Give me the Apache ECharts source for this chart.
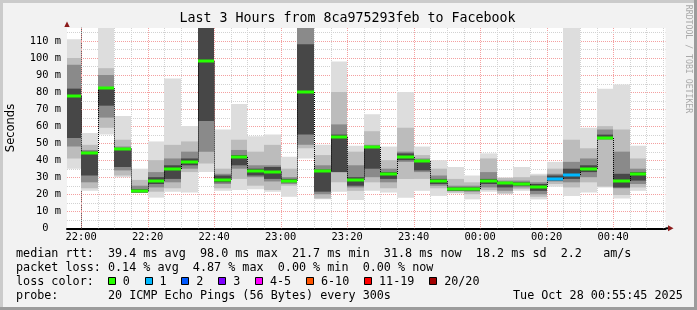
<!DOCTYPE html>
<html><head><meta charset="utf-8">
<style>html,body{margin:0;padding:0;background:#f2f2f2;}#c{width:697px;height:310px;}</style>
<script src="https://cdn.jsdelivr.net/npm/echarts@6/dist/echarts.min.js"></script>
</head><body><div id="c"></div>
<script>
// ---- data ----
const barTimes = ['21:55','22:00','22:05','22:10','22:15','22:20','22:25','22:30','22:35','22:40',
  '22:45','22:50','22:55','23:00','23:05','23:10','23:15','23:20','23:25','23:30',
  '23:35','23:40','23:45','23:50','23:55','00:00','00:05','00:10','00:15','00:20',
  '00:25','00:30','00:35','00:40','00:45'];
const outerLo = [35,22,55,30,21,18,21.5,21,33,22, 22.5,23,21.5,18.5,41,17,21.5,16.6,22,21, 18,22,19,20.5,17,21.5,20,22,17,24.4, 19,21,24,17.5,22];
const outerHi = [111,56,120,66,35,51,88,60,120,58, 73,54,55,42,120,49,98,48.5,67,48, 80,48,40,36,31,44,30,36,32,39, 120,59,82,84.5,48.5];
const midLo   = [41,23.5,59,31,21,21.5,23.5,33,38,23.5, 29,25,22.5,25,47,17.5,27,22,27,23.5, 29,29,23.5,21,20,22.5,20.5,23,18.5,26, 24,27,24.5,19.5,24];
const midHi   = [100,49,94,52,28.4,40,49,51,120,35, 52,45,49,35,120,43,80,45,57,40, 59,43,35,29,27,41,29.5,30,31,35, 52,47,60,58,41];
const innerLo = [48,27,65,34,21,24,27,35,45,26, 35,30,27.5,26,49,20,33,24,30,27, 39,33,25,22,21.5,24,22,24,20,27.5, 27,30,52,23.5,26];
const innerHi = [96,46,90,48,25,33,41,45,120,32, 46,37,37,30,120,37,61,37,49,35, 45,41,31,25,25,33,28,28,27,32, 39,41,58,45,35];
const coreLo  = [53,31,72,36,21,26,29,37,63,27, 37,31,29,27,55,21.5,33,25,35,29, 40,34,26,22,22,26,24,25,22,28, 29,33,52.5,24,28];
const coreHi  = [82,45,82.5,46.5,23,30,37,41,120,31, 43,35,36,29,108,34.5,55,30,48,33, 44,40,29,24,24,29,27,27,26,31, 35,37,55,32,33];
const medians = [77.5,44.2,82.2,46.8,21.7,28,34.8,39.2,98,28.6, 41.9,33.7,33.3,28,80,33.9,53.5,28.6,47.7,31.9, 41.8,39.4,27.6,23,23.1,28,26.4,25.8,24.2,29, 31.3,34.9,53,27.8,31.9];
const lossBins = [0,0,0,0,0,0,0,0,0,0, 0,0,0,0,0,0,0,0,0,0, 0,0,0,0,0,0,0,0,0,1, 1,0,0,0,0];
const xTickLabels = ['22:00','22:20','22:40','23:00','23:20','23:40','00:00','00:20','00:40'];
const startTime = '21:55:45', endTime = '00:55:45';
const yMax = 117.6;
const lossLabels = ['0','1','2','3','4-5','6-10','11-19','20/20'];
const lossColors = ['#26ff00','#00b8ff','#0059ff','#7e00ff','#ff00ff','#ff5500','#ff0000','#a10000'];
const titleText = 'Last 3 Hours from 8ca975293feb to Facebook';
const statLines = [
  'median rtt:  39.4 ms avg  98.0 ms max  21.7 ms min  31.8 ms now  18.2 ms sd  2.2   am/s',
  'packet loss: 0.14 % avg  4.87 % max  0.00 % min  0.00 % now'
];
const probeLine = 'probe:       20 ICMP Echo Pings (56 Bytes) every 300s';
const dateLine = 'Tue Oct 28 00:55:45 2025';

// ---- helpers ----
function toMin(s){
  const p = s.split(':').map(Number);
  let v = p[0]*60 + p[1] + (p[2]||0)/60 - 22*60;
  if (v < -600) v += 1440;
  return v;
}
const X_MIN = toMin(startTime), X_MAX = toMin(endTime);
const tickMinutes = xTickLabels.map(toMin);
const STEP = 5;
const layerColors = ['#dddddd','#bcbcbc','#8a8a8a','#474747'];

const barData = barTimes.map((t,i)=>[toMin(t), outerLo[i], outerHi[i], midLo[i], midHi[i],
  innerLo[i], innerHi[i], coreLo[i], coreHi[i], medians[i], lossBins[i]]);

const vGrid = [];
for (let m = Math.ceil(X_MIN/5)*5; m <= X_MAX; m += 5) vGrid.push([m]);
const hGrid = [];
for (let v = 5; v < yMax; v += 5) hGrid.push([v]);

const MONO = '"DejaVu Sans Mono", monospace';
const G = {left:67, top:28, width:598.5, height:200.3};

function renderBar(params, api){
  const cs = params.coordSys;
  const area = {x:cs.x, y:cs.y, width:cs.width, height:cs.height};
  const t0 = api.value(0), t1 = t0 + STEP;
  const children = [];
  for (let k = 0; k < 4; k++){
    const lo = api.value(1+2*k), hi = api.value(2+2*k);
    const a = api.coord([t0, hi]), b = api.coord([t1, lo]);
    const x0 = Math.round(a[0]), x1 = Math.round(b[0]);
    const r = echarts.graphic.clipRectByRect({x:x0, y:a[1], width:x1-x0, height:b[1]-a[1]}, area);
    if (r) children.push({type:'rect', shape:r, style:{fill:layerColors[k]}});
  }
  const med = api.value(9), loss = api.value(10);
  const pm = api.coord([t0, med]), pe = api.coord([t1, med]);
  const x0 = Math.round(pm[0]), x1 = Math.round(pe[0]);
  const i = params.dataIndex;
  if (i > 0){
    const pp = api.coord([t0, medians[i-1]]);
    children.push({type:'line', shape:{x1:x0+0.5, y1:pp[1], x2:x0+0.5, y2:pm[1]},
      style:{stroke:'#000', lineWidth:1, lineDash:[1,1]}});
  }
  const mr = echarts.graphic.clipRectByRect({x:x0, y:Math.round(pm[1])-1.5, width:x1-x0, height:3}, area);
  if (mr) children.push({type:'rect', shape:mr, style:{fill:lossColors[loss]}});
  return {type:'group', children};
}

function renderV(params, api){
  const cs = params.coordSys;
  const m = api.value(0);
  const x = Math.round(api.coord([m, 0])[0]) + 0.5;
  const major = tickMinutes.indexOf(m) >= 0;
  return {type:'line', shape:{x1:x, y1:cs.y, x2:x, y2:cs.y+cs.height},
    style:{stroke: major ? '#f4a0a0' : '#d2d2d2', lineWidth:1, lineDash:[1,1]}};
}
function renderH(params, api){
  const cs = params.coordSys;
  const v = api.value(0);
  const y = Math.round(api.coord([X_MIN, v])[1]) + 0.5;
  const major = (v % 10) === 0;
  return {type:'line', shape:{x1:cs.x, y1:y, x2:cs.x+cs.width, y2:y},
    style:{stroke: major ? '#f4a0a0' : '#d2d2d2', lineWidth:1, lineDash:[1,1]}};
}

// legend layout
const graphics = [];
graphics.push({type:'rect', shape:{x:0,y:0,width:697,height:3}, style:{fill:'#cbcbcb'}, silent:true});
graphics.push({type:'rect', shape:{x:0,y:0,width:3,height:310}, style:{fill:'#cbcbcb'}, silent:true});
graphics.push({type:'rect', shape:{x:0,y:307,width:697,height:3}, style:{fill:'#9c9c9c'}, silent:true});
graphics.push({type:'rect', shape:{x:694,y:0,width:3,height:310}, style:{fill:'#9c9c9c'}, silent:true});
graphics.push({type:'text', x:347.5, y:19, style:{text:titleText, font:'13.3px '+MONO, fill:'#000', textAlign:'center', textVerticalAlign:'middle'}});
graphics.push({type:'text', x:11, y:128, rotation:Math.PI/2, style:{text:'Seconds', font:'11.5px "DejaVu Sans", sans-serif', fill:'#000', textAlign:'center', textVerticalAlign:'middle'}});
graphics.push({type:'text', x:688, y:59, rotation:-Math.PI/2, style:{text:'RRDTOOL / TOBI OETIKER', font:'8.2px '+MONO, fill:'#a9a9a9', textAlign:'center', textVerticalAlign:'middle'}});
// arrows
graphics.push({type:'polygon', shape:{points:[[67,21.5],[64.3,27],[69.7,27]]}, style:{fill:'#8b1a1a'}});
graphics.push({type:'line', shape:{x1:G.left+G.width, y1:228.3, x2:669, y2:228.3}, style:{stroke:'#000', lineWidth:2}});
graphics.push({type:'polygon', shape:{points:[[673.5,228.3],[668,225.3],[668,231.3]]}, style:{fill:'#8b1a1a'}});
const lineY = [254, 268.3, 282, 296.3];
const ADV = 7.08, FS = '11.75px ' + MONO;
statLines.forEach((s,k)=>graphics.push({type:'text', x:16, y:lineY[k], style:{text:s, font:FS, fill:'#000', textVerticalAlign:'middle'}}));
graphics.push({type:'text', x:16, y:lineY[2], style:{text:'loss color:', font:FS, fill:'#000', textVerticalAlign:'middle'}});
let lx = 122.7;
lossLabels.forEach((lab,k)=>{
  graphics.push({type:'rect', shape:{x:Math.round(lx-15)+0.5, y:277.5, width:7, height:7}, style:{fill:lossColors[k], stroke:'#000', lineWidth:1}});
  graphics.push({type:'text', x:lx, y:lineY[2], style:{text:lab, font:FS, fill:'#000', textVerticalAlign:'middle'}});
  lx += (lab.length + 4.2) * ADV;
});
graphics.push({type:'text', x:16, y:lineY[3], style:{text:probeLine, font:FS, fill:'#000', textVerticalAlign:'middle'}});
graphics.push({type:'text', x:513, y:lineY[3], style:{text:dateLine, font:FS, fill:'#000', textVerticalAlign:'middle'}});

const chart = echarts.init(document.getElementById('c'), null, {renderer:'canvas'});
chart.setOption({
  animation:false,
  backgroundColor:'#f2f2f2',
  grid:{left:G.left, top:G.top, width:G.width, height:G.height, show:true, backgroundColor:'#ffffff', borderWidth:0, containLabel:false},
  xAxis:{type:'value', min:X_MIN, max:X_MAX,
    splitLine:{show:false}, axisTick:{show:false},
    axisLine:{show:true, onZero:false, lineStyle:{color:'#000', width:2}},
    axisLabel:{customValues:tickMinutes, margin:4, fontFamily:'DejaVu Sans Mono', fontSize:10.4, color:'#000',
      formatter:(v)=>{const k = tickMinutes.indexOf(v); return k>=0 ? xTickLabels[k] : '';}}
  },
  yAxis:{type:'value', min:0, max:yMax, interval:10,
    splitLine:{show:false}, axisTick:{show:false},
    axisLine:{show:true, lineStyle:{color:'#666', width:1}},
    axisLabel:{margin:6, fontFamily:'DejaVu Sans Mono', fontSize:10.4, color:'#000', showMaxLabel:true,
      formatter:(v)=> (Math.abs(v % 10) > 1e-6) ? '' : (v === 0 ? '0  ' : v + ' m')}
  },
  graphic:{elements:graphics},
  series:[
    {type:'custom', name:'vgrid', z:1, silent:true, renderItem:renderV, data:vGrid, encode:{x:0}},
    {type:'custom', name:'hgrid', z:1, silent:true, renderItem:renderH, data:hGrid, encode:{y:0}},
    {type:'custom', name:'smoke', z:2, silent:true, renderItem:renderBar, data:barData, encode:{x:0, y:[1,2]}}
  ]
});
</script></body></html>
